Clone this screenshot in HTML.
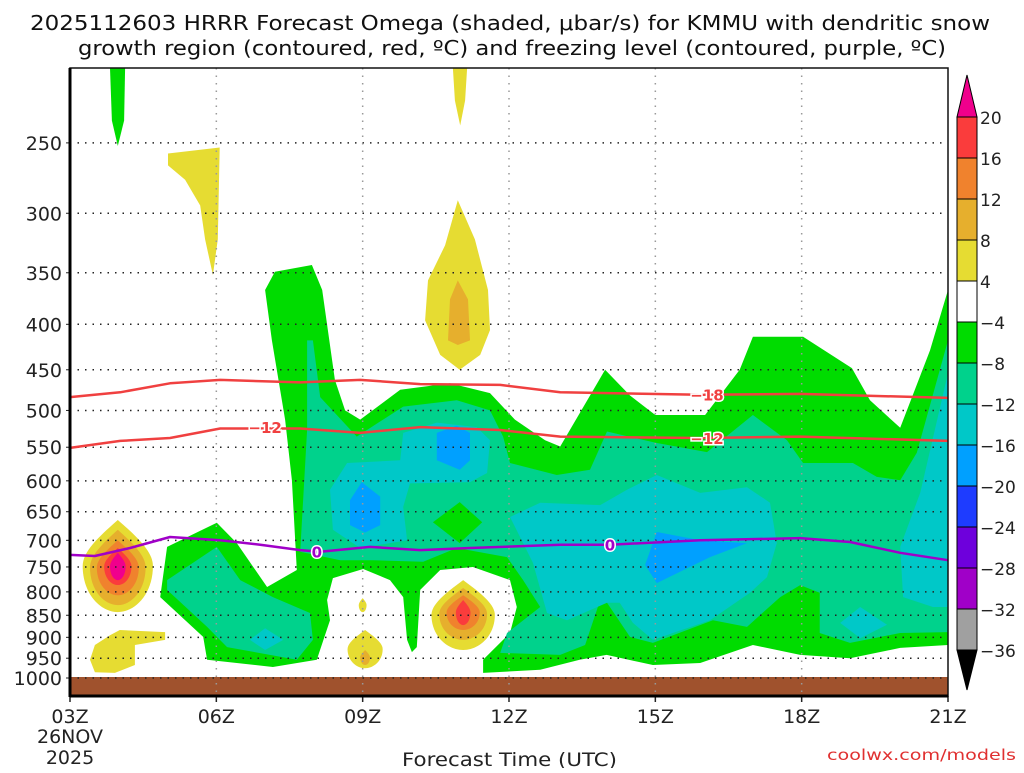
<!DOCTYPE html>
<html><head><meta charset="utf-8"><style>
body{margin:0;background:#fff;}
svg text{font-family:"DejaVu Sans","Liberation Sans",sans-serif;}
</style></head><body>
<svg id="c" width="1024" height="768" viewBox="0 0 1024 768" xmlns="http://www.w3.org/2000/svg">
<text x="30" y="30" font-size="20" textLength="960" lengthAdjust="spacingAndGlyphs" fill="#111">2025112603 HRRR Forecast Omega (shaded, μbar/s) for KMMU with dendritic snow</text>
<text x="78" y="55" font-size="20" textLength="868" lengthAdjust="spacingAndGlyphs" fill="#111">growth region (contoured, red, ºC) and freezing level (contoured, purple, ºC)</text>
<g id="plot"></g>
<text x="402" y="766" font-size="19" textLength="215" lengthAdjust="spacingAndGlyphs" fill="#222">Forecast Time (UTC)</text>
<text x="827" y="760" font-size="15" textLength="189" lengthAdjust="spacingAndGlyphs" fill="#e03030">coolwx.com/models</text>
</svg>
<script>
const pressureTicks=[250,300,350,400,450,500,550,600,650,700,750,800,850,900,950,1000];
const hourTicks=[3,6,9,12,15,18,21];
const hourTickLabels=["03Z","06Z","09Z","12Z","15Z","18Z","21Z"];
const cbLevels=["20","16","12","8","4","−4","−8","−12","−16","−20","−24","−28","−32","−36"];
const cbColors=["#fa3c3c","#f0822d","#e6af2d","#e6dc32","#ffffff","#00dc00","#00d28c","#00c8c8","#00a0ff","#1e3cff","#6e00dc","#a000c8","#a0a0a0"];
const cGreen="#00dc00",cSea="#00d28c",cCyan="#00c8c8",cBlue="#00a0ff",cYel="#e6dc32",cGold="#e6af2d",cOr="#f0822d",cRed="#fa3c3c",cMag="#f0008c";
const greenMain=[[4.99,712],[6.01,669],[6.42,705],[7.04,790],[7.65,756],[7.55,599],[7.41,512],[7.14,417],[7.0,366],[7.2,349],[7.96,343],[8.17,366],[8.43,462],[8.64,500],[8.95,512],[9.77,474],[10.79,466],[11.61,478],[12.12,512],[12.74,540],[13.05,549],[13.97,450],[14.48,481],[15.0,506],[16.02,506],[16.73,450],[17.0,413],[18.03,413],[19.03,448],[19.4,487],[20.02,523],[20.63,428],[21,366],[21,918],[20.02,925],[18.99,950],[17.97,942],[17.0,918],[15.92,962],[14.95,967],[14.0,942],[13.45,954],[12.64,979],[11.47,987],[11.47,954],[12.02,890],[12.16,832],[12.02,776],[11.26,750],[10.59,756],[10.18,796],[10.11,923],[10.01,935],[9.91,906],[9.83,811],[9.56,776],[9.01,754],[8.39,772],[8.27,817],[8.33,861],[8.06,954],[7.16,972],[5.81,954],[5.73,899],[4.85,811]];
const seaLeft=[[4.99,776],[6.01,712],[6.49,776],[7.16,811],[7.92,845],[7.98,906],[7.65,954],[6.22,923],[5.81,876],[4.99,796]];
const cyanLeft=[[6.69,906],[7.0,879],[7.37,906],[7.0,930]];
const seaMain=[[7.86,417],[7.98,417],[8.13,483],[8.88,535],[9.83,495],[10.93,487],[11.61,500],[11.88,535],[12.02,573],[12.98,591],[13.66,583],[14.01,528],[15.03,544],[16.06,557],[17.0,506],[17.7,540],[18.03,573],[19.05,573],[19.54,594],[20.02,599],[20.36,558],[21,417],[21,888],[20.02,890],[18.99,913],[18.37,890],[18.37,802],[17.97,786],[17.56,811],[16.88,876],[16.18,861],[14.95,913],[14.48,899],[14.01,823],[13.87,817],[13.56,918],[13.05,942],[11.82,937],[11.96,890],[12.64,832],[12.29,776],[11.96,731],[10.93,714],[10.24,740],[9.21,737],[8.54,737],[7.72,721],[7.86,526]];
const greenIsland=[[10.44,668],[10.99,634],[11.45,668],[10.99,705]];
const cyanMid=[[8.33,614],[8.68,573],[9.77,569],[9.83,530],[10.52,516],[11.34,522],[11.61,540],[11.55,588],[11.2,602],[9.97,604],[9.83,642],[9.91,700],[8.95,714],[8.39,681]];
const blueA=[[10.52,530],[10.93,520],[11.2,530],[11.2,569],[10.99,583],[10.52,569]];
const blueB=[[8.74,631],[8.98,602],[9.36,625],[9.36,673],[9.05,686],[8.74,673]];
const cyanRight=[[12.02,659],[12.64,635],[13.87,639],[14.42,614],[15.03,591],[15.92,619],[16.88,610],[17.35,635],[17.49,705],[17.29,770],[16.94,802],[16.12,861],[14.95,906],[14.54,867],[14.27,823],[14.01,823],[13.19,861],[12.78,845],[12.49,742]];
const blueRight=[[14.79,746],[15.03,685],[15.92,700],[16.88,705],[16.12,731],[15.03,782]];
const cyanEdge=[[21,454],[20.43,619],[20.02,712],[20.08,811],[20.69,832],[21,832]];
const cyanSmall=[[18.79,867],[19.2,832],[19.75,871],[19.2,902]];
const greenTop=[[3.82,206],[4.13,206],[4.11,236],[3.98,252],[3.86,236]];
const yelA=[[5.01,257],[6.07,253],[6.03,321],[5.93,352],[5.77,321],[5.67,294],[5.36,275],[5.01,265]];
const yelB=[[10.85,206],[11.14,206],[11.1,224],[11.0,239],[10.89,224]];
const yelC=[[10.95,290],[11.3,321],[11.57,366],[11.61,406],[11.41,433],[10.99,450],[10.59,433],[10.28,396],[10.34,357],[10.69,326]];
const goldC=[[10.95,357],[11.16,375],[11.2,417],[10.95,422],[10.75,417],[10.79,375]];
const yelLow=[[3.41,954],[3.51,918],[3.82,895],[4.02,883],[4.95,888],[4.95,906],[4.33,918],[4.33,967],[3.92,987],[3.51,985]];
// blobs: [centerHour, halfWidthHours, pTop, pBottom, color]
const blobLeft=[[3.98,0.72,664,843,cYel],[3.98,0.57,681,828,cGold],[3.98,0.43,700,807,cOr],[3.98,0.28,714,786,cRed],[3.98,0.16,723,776,cMag]];
const blobRight=[[11.06,0.65,776,930,cYel],[11.06,0.49,792,906,cGold],[11.06,0.34,807,883,cOr],[11.06,0.15,817,872,cRed]];
const blob09=[[9.0,0.08,813,843,cYel],[9.05,0.36,883,975,cYel],[9.05,0.1,930,967,cGold]];
const lineHours=[3,4.03,5.05,6.08,7.72,8.95,10.18,11.82,13.05,15.92,17.97,21];
const t18=[483,477,466,462,465,462,467,468,477,480,479,484];
const t12=[551,541,537,524,524,530,522,526,535,537,535,541];
const frzHours=[3,3.51,4.23,5.05,6.08,6.9,7.72,8.13,9.15,10.18,11.2,13.05,14.07,15.92,17.97,18.99,20.02,21];
const frzP=[727,729,714,694,700,708,718,721,712,718,714,708,708,700,696,703,723,737];

const L=70,R=948,T=68,B=696;
function X(h){return L+(h-3)*(R-L)/18;}
function Y(p){return 678+386*Math.log(p/1000);}
const NS="http://www.w3.org/2000/svg";
const g=document.getElementById('plot');
function mk(tag,attrs,parent){const e=document.createElementNS(NS,tag);for(const k in attrs)e.setAttribute(k,attrs[k]);(parent||g).appendChild(e);return e;}
mk('clipPath',{id:'clp'});
const cp=g.lastChild;mk('rect',{x:L,y:T,width:R-L,height:B-T},cp);
const sh=mk('g',{'clip-path':'url(#clp)'});


function P(pts,fill,name){const e=document.createElementNS(NS,'polygon');e.setAttribute('points',pts.map(q=>X(q[0]).toFixed(1)+','+Y(q[1]).toFixed(1)).join(' '));e.setAttribute('fill',fill);


sh.appendChild(e);}
P(greenMain,cGreen,'omega-green-region');
P(seaLeft,cSea,'omega-seagreen-left');
P(cyanLeft,cCyan,'omega-cyan-left');
P(seaMain,cSea,'omega-seagreen-main');
P(greenIsland,cGreen,'omega-green-island');
P(cyanMid,cCyan,'omega-cyan-mid');
P(blueA,cBlue,'omega-blue-a');
P(blueB,cBlue,'omega-blue-b');
P(cyanRight,cCyan,'omega-cyan-right');
P(blueRight,cBlue,'omega-blue-right');
P(cyanEdge,cCyan,'omega-cyan-edge');
P(cyanSmall,cCyan,'omega-cyan-small');
P(greenTop,cGreen,'omega-green-top');
P(yelA,cYel,'omega-yellow-a');
P(yelB,cYel,'omega-yellow-b');
P(yelC,cYel,'omega-yellow-c');
P(goldC,cGold,'omega-gold-c');
P(yelLow,cYel,'omega-yellow-low');
function B2(b,name){const cx=X(b[0]),rx=b[1]*(R-L)/18,yt=Y(b[2]),yb=Y(b[3]),ym=(yt+yb)/2;
const d=`M${cx},${yt} C${cx+rx*0.6},${yt+(ym-yt)*0.4} ${cx+rx},${ym-(ym-yt)*0.3} ${cx+rx},${ym} C${cx+rx},${ym+(yb-ym)*0.6} ${cx+rx*0.5},${yb} ${cx},${yb} C${cx-rx*0.5},${yb} ${cx-rx},${ym+(yb-ym)*0.6} ${cx-rx},${ym} C${cx-rx},${ym-(ym-yt)*0.3} ${cx-rx*0.6},${yt+(ym-yt)*0.4} ${cx},${yt}Z`;
const e=document.createElementNS(NS,'path');e.setAttribute('d',d);e.setAttribute('fill',b[4]);


sh.appendChild(e);}
blobLeft.forEach((b,i)=>B2(b,'omega-blob-04z-'+i));
blobRight.forEach((b,i)=>B2(b,'omega-blob-11z-'+i));
blob09.forEach((b,i)=>B2(b,'omega-blob-09z-'+i));
// ground
const gr=mk('rect',{x:L,y:Y(1000)-1,width:R-L,height:B-Y(1000)+1,fill:'#a0522d'});


// grid
pressureTicks.forEach(p=>{const e=mk('line',{x1:L,x2:R,y1:Y(p),y2:Y(p),stroke:'#222','stroke-width':1.5,'stroke-dasharray':'1.5 6'});


const t=mk('text',{x:L-8,y:Y(p)+7,'font-size':19,'text-anchor':'end',fill:'#222'});t.textContent=p;


const tk=mk('line',{x1:L-4,x2:L,y1:Y(p),y2:Y(p),stroke:'#222'});

});
hourTicks.forEach((h,i)=>{if(i>0&&i<hourTicks.length-1){const e=mk('line',{x1:X(h),x2:X(h),y1:T,y2:B,stroke:'#999','stroke-width':1.5,'stroke-dasharray':'1.5 6'});

}
const tk=mk('line',{x1:X(h),x2:X(h),y1:B,y2:B+6,stroke:'#222','stroke-width':1.5});


const t=mk('text',{x:X(h),y:723,'font-size':19,'text-anchor':'middle',fill:'#222'});t.textContent=hourTickLabels[i];

});
[["26NOV",743],["2025",764]].forEach(a=>{const t=mk('text',{x:X(3),y:a[1],'font-size':19,'text-anchor':'middle',fill:'#222'});t.textContent=a[0];

});
// contour lines
function line(hs,ps,color,name){const e=mk('polyline',{points:hs.map((h,i)=>X(h).toFixed(1)+','+Y(ps[i]).toFixed(1)).join(' '),fill:'none',stroke:color,'stroke-width':2.5,'stroke-linejoin':'round'});

}
line(lineHours,t18,'#f04040','contour-minus18');
line(lineHours,t12,'#f04040','contour-minus12');
line(frzHours,frzP,'#a000c8','freezing-level-0');
function lab(h,p,txt,color,name){
const t=mk('text',{x:X(h),y:Y(p)+6,'font-size':15,'font-weight':'bold','text-anchor':'middle',fill:color,stroke:'#fff','stroke-width':3,'paint-order':'stroke'});t.textContent=txt;

}
lab(16.06,480,'−18','#f04040','label-minus18');
lab(7.0,522,'−12','#f04040','label-minus12-left');
lab(16.06,537,'−12','#f04040','label-minus12-right');
lab(8.06,721,'0','#a000c8','label-zero-left');
lab(14.07,708,'0','#a000c8','label-zero-right');
// frame
const fr=mk('rect',{x:L,y:T,width:R-L,height:B-T,fill:'none',stroke:'#111','stroke-width':1.5});


mk('line',{x1:L,x2:L,y1:T,y2:B+1,stroke:'#000','stroke-width':3});
mk('line',{x1:L,x2:R,y1:B,y2:B,stroke:'#000','stroke-width':3});
// colorbar
const cbx=957,cbw=20,cbt=117,cbs=41;
const cb=mk('g',{});


const tri=mk('polygon',{points:`${cbx},${cbt} ${cbx+cbw},${cbt} ${cbx+cbw/2},${cbt-42}`,fill:cMag,stroke:'#000'},cb);


cbColors.forEach((c,i)=>{const r=mk('rect',{x:cbx,y:cbt+i*cbs,width:cbw,height:cbs,fill:c,stroke:'#000','stroke-width':1},cb);

});
const bot=cbt+cbColors.length*cbs;
const tri2=mk('polygon',{points:`${cbx},${bot} ${cbx+cbw},${bot} ${cbx+cbw/2},${bot+40}`,fill:'#000',stroke:'#000'},cb);


cbLevels.forEach((s,i)=>{const t=mk('text',{x:cbx+cbw+3,y:cbt+i*cbs+7,'font-size':17,fill:'#222'},cb);t.textContent=s;

});
</script>
</body></html>
